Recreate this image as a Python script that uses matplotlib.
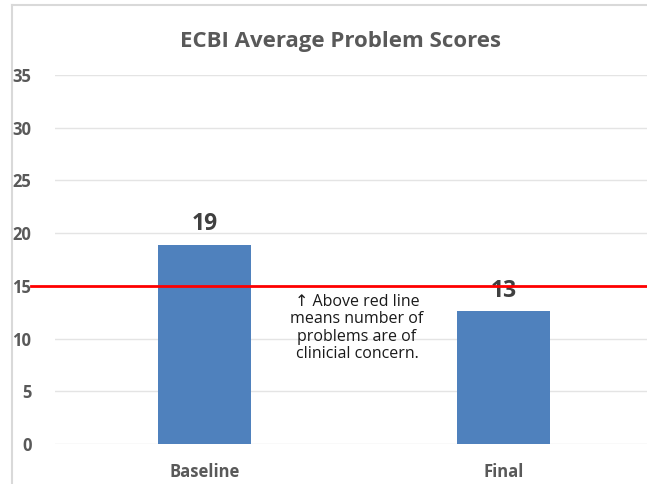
import matplotlib
matplotlib.use("Agg")
import matplotlib.pyplot as plt
from matplotlib.lines import Line2D

categories = ["Baseline", "Final"]
values = [18.9, 12.6]
value_labels = ["19", "13"]
yticks = [0, 5, 10, 15, 20, 25, 30, 35]
threshold = 15
title = "ECBI Average Problem Scores"
note = "↑ Above red line\nmeans number of\nproblems are of\nclinicial concern."

plt.rcParams['font.family'] = ['Open Sans', 'DejaVu Sans']

W, H = 647, 484
fig = plt.figure(figsize=(W / 100, H / 100), dpi=100)
fig.patch.set_facecolor("white")

# outer chart border (cut off at right/bottom)
bx, by = 12 / W, 1 - 5 / H
fig.add_artist(Line2D([bx, bx], [-0.05, by], transform=fig.transFigure,
                      color="#d9d9d9", lw=1.5))
fig.add_artist(Line2D([bx, 1.05], [by, by], transform=fig.transFigure,
                      color="#d9d9d9", lw=1.5))

left, right = 55 / W, 653 / W
bottom, top = 1 - 444 / H, 1 - 75 / H
ax = fig.add_axes([left, bottom, right - left, top - bottom])
ax.set_facecolor("none")

x = range(len(categories))
bars = ax.bar(x, values, width=0.31, color="#4f81bd", zorder=2)
ax.set_xlim(-0.5, len(categories) - 0.5)
ax.set_ylim(0, 35)
ax.set_yticks(yticks)
ax.set_yticklabels([str(t) for t in yticks])
ax.set_xticks(list(x))
ax.set_xticklabels(categories)
for s in ax.spines.values():
    s.set_visible(False)
ax.tick_params(axis="both", length=0, colors="#595959", labelsize=12)
ax.tick_params(axis="y", pad=17)
ax.tick_params(axis="x", pad=14)
for lab in ax.get_xticklabels() + ax.get_yticklabels():
    lab.set_fontweight("bold")
ax.grid(axis="y", color="#e4e4e4", lw=1, zorder=0)
ax.set_axisbelow(True)

for b, lbl in zip(bars, value_labels):
    ax.annotate(lbl, (b.get_x() + b.get_width() / 2, b.get_height()),
                xytext=(0, 6), textcoords="offset points",
                ha="center", va="bottom", fontsize=16.5, fontweight="bold",
                color="#404040")

ax.axhline(threshold, xmin=-0.04, xmax=1.0, color="#ff0000", lw=2,
           clip_on=False, zorder=3)

ax.text(0.51, threshold - 0.8, note, ha="center", va="top", fontsize=11.5,
        color="#1a1a1a", linespacing=1.1, zorder=4)

fig.text(340 / W, 1 - 42 / H, title, ha="center", va="center",
         fontsize=16, fontweight="bold", color="#595959")

fig.savefig("out.png", dpi=100)
